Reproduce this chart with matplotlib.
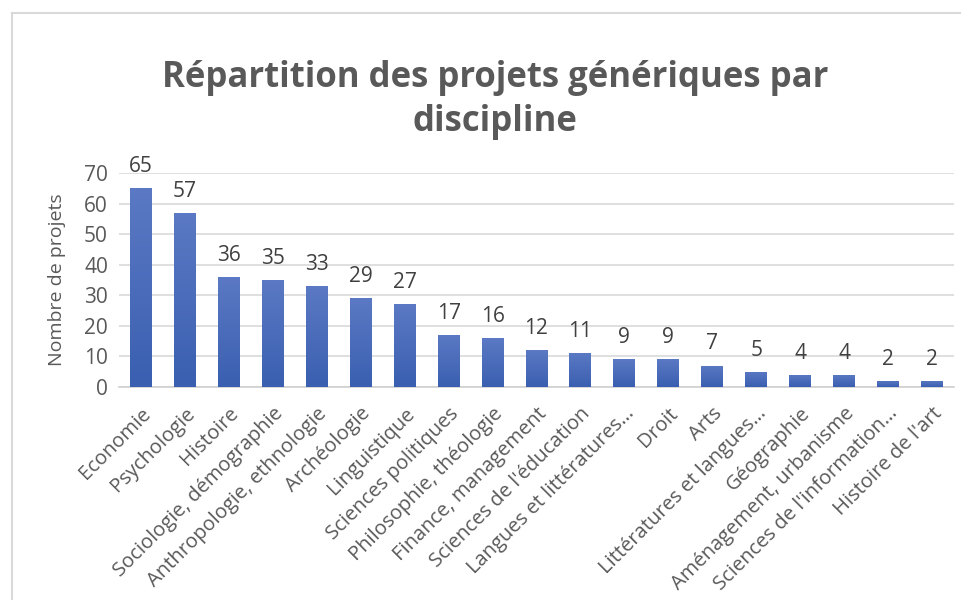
import matplotlib
matplotlib.use("Agg")
import matplotlib.pyplot as plt
import numpy as np
from matplotlib.lines import Line2D

categories = ["Economie", "Psychologie", "Histoire", "Sociologie, démographie",
              "Anthropologie, ethnologie", "Archéologie", "Linguistique",
              "Sciences politiques", "Philosophie, théologie", "Finance, management",
              "Sciences de l'éducation", "Langues et littératures…", "Droit", "Arts",
              "Littératures et langues…", "Géographie", "Aménagement, urbanisme",
              "Sciences de l'information…", "Histoire de l'art"]
values = [65, 57, 36, 35, 33, 29, 27, 17, 16, 12, 11, 9, 9, 7, 5, 4, 4, 2, 2]
yticks = [0, 10, 20, 30, 40, 50, 60, 70]

plt.rcParams['font.family'] = ['Open Sans', 'DejaVu Sans']
text_color = "#595959"

fig = plt.figure(figsize=(9.61, 6.0), dpi=100)
W, H = 961, 600
ax = fig.add_axes([119 / W, 1 - 387 / H, (954 - 119) / W, (387 - 173) / H])

x = np.arange(len(categories))
bars = ax.bar(x, values, width=0.5, color="#4a6cbc", zorder=3)

# vertical gradient in each bar
grad = np.linspace(0, 1, 256).reshape(-1, 1)
cmap = matplotlib.colors.LinearSegmentedColormap.from_list("g", ["#3a5fb0", "#5b79c4"])
for b in bars:
    x0, y0 = b.get_x(), b.get_y()
    w, h = b.get_width(), b.get_height()
    im = ax.imshow(grad, extent=[x0, x0 + w, y0, y0 + h], origin="lower",
                   cmap=cmap, aspect="auto", zorder=4)
    im.set_clip_path(b)

for xi, v in zip(x, values):
    ax.annotate(str(v), (xi, v), xytext=(0, 8), textcoords="offset points",
                ha="center", va="bottom", fontsize=15, color="#404040", zorder=5)

ax.set_xlim(-0.5, len(categories) - 0.5)
ax.set_ylim(0, 70)
ax.set_yticks(yticks)
ax.set_yticklabels([str(t) for t in yticks], fontsize=15, color=text_color)
ax.yaxis.grid(True, color="#d9d9d9", linewidth=1.2, zorder=0)
ax.set_axisbelow(True)
for s in ["top", "right", "left"]:
    ax.spines[s].set_visible(False)
ax.spines["bottom"].set_color("#d0d0d0")
ax.spines["bottom"].set_linewidth(1.2)
ax.tick_params(axis="both", length=0, pad=8)
ax.set_xticks(x)
ax.set_xticklabels(categories, rotation=45, ha="right", rotation_mode="anchor",
                   fontsize=14.5, color=text_color)
ax.tick_params(axis="x", pad=12)
ax.set_ylabel("Nombre de projets", fontsize=14, color=text_color, labelpad=13)

fig.text(495 / W, 1 - 87 / H, "Répartition des projets génériques par",
         ha="center", va="baseline", fontsize=25, fontweight="bold", color=text_color)
fig.text(495 / W, 1 - 131 / H, "discipline",
         ha="center", va="baseline", fontsize=25, fontweight="bold", color=text_color)

# chart border
fig.add_artist(Line2D([12 / W, 12 / W], [0, 1 - 13 / H], transform=fig.transFigure,
                      color="#d9d9d9", linewidth=1.5))
fig.add_artist(Line2D([12 / W, 1], [1 - 13 / H, 1 - 13 / H], transform=fig.transFigure,
                      color="#d9d9d9", linewidth=1.5))

fig.savefig("out.png", dpi=100, facecolor="white")
